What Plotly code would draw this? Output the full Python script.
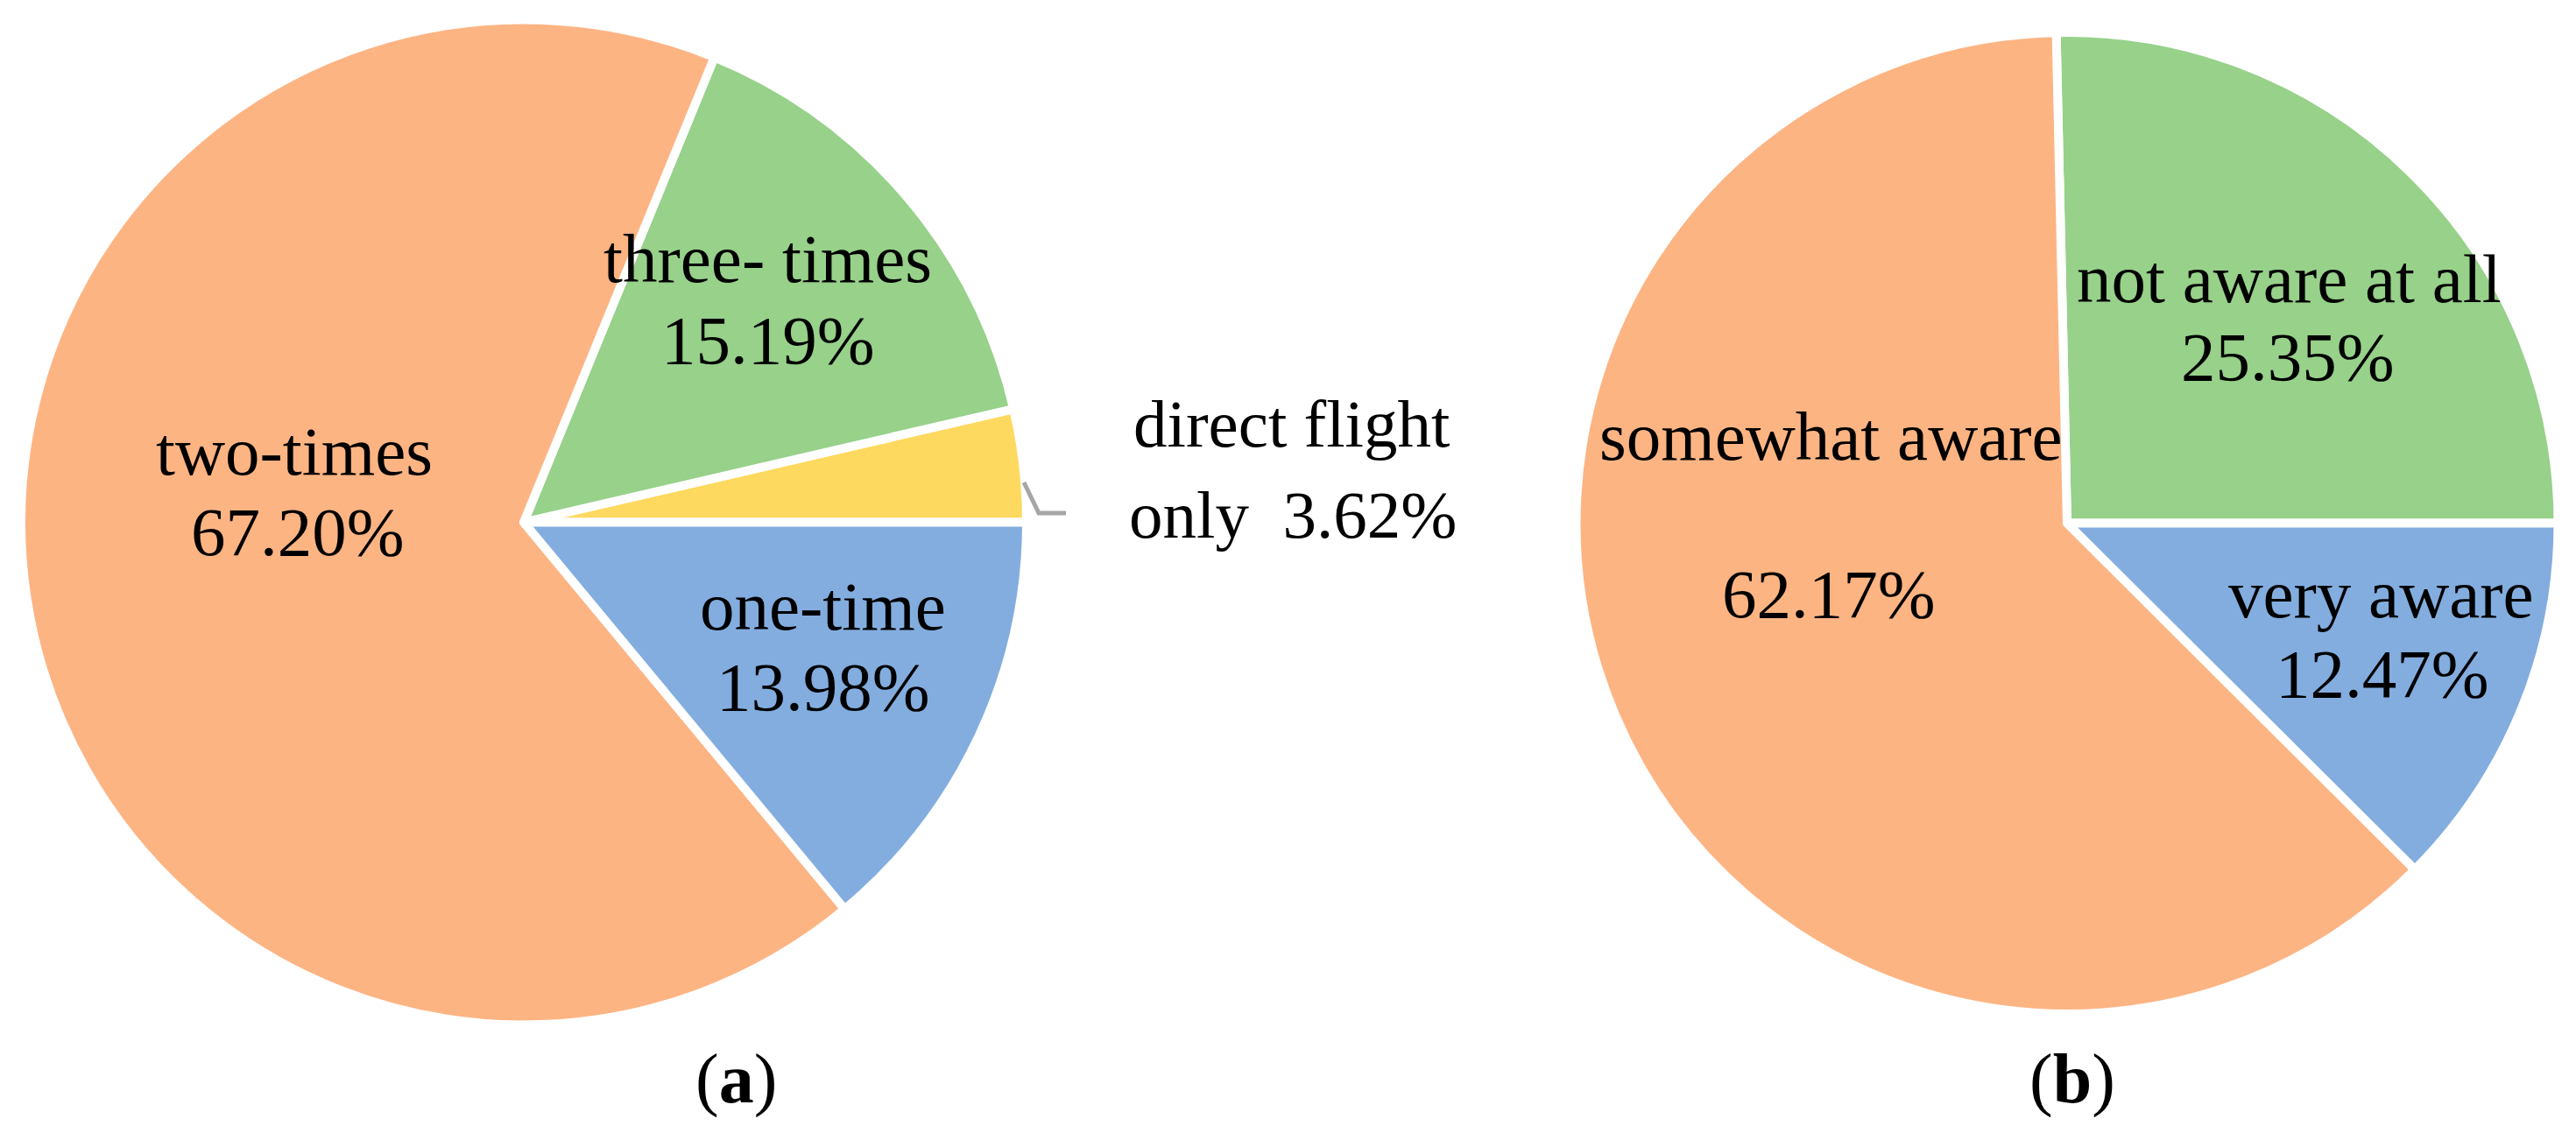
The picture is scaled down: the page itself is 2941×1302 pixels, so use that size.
import plotly.graph_objects as go

# ---------------- data ----------------
categories_a = ["direct flight only", "three- times", "two-times", "one-time"]
values_a = [3.62, 15.19, 67.20, 13.98]

categories_b = ["not aware at all", "somewhat aware", "very aware"]
values_b = [25.35, 62.17, 12.47]

panel_titles = ["(<b>a</b>)", "(<b>b</b>)"]

# ---------------- style ----------------
W, H = 2941, 1302
FONT = "Liberation Serif, Times New Roman, serif"
colors_a = ["#FED95F", "#97D18A", "#FDB483", "#83ADDF"]
colors_b = ["#97D18A", "#FDB483", "#83ADDF"]
BORDER = 10

# pie geometry (pixels): center x, center y (from top), radius
geom_a = (590, 588.5, 574)
geom_b = (2352, 589.5, 560.5)

# label layout (pixels): (x center, baseline line1, x center line2, baseline line2)
pos_a = [(1466, 508, 1468, 612), (869, 320, 869, 413), (328, 539.5, 332, 632), (931, 717, 932, 809)]
pos_b = [(2605, 343, 2604, 432), (2082, 523, 2080, 702.5), (2710, 702.5, 2712, 793.6)]
title_pos = [(832, 1257), (2358, 1257)]

LABEL_SIZE = 79
DF_SIZE = 77
TITLE_SIZE = 80


def px(x):
    return x / W


def py(y):
    return 1 - y / H


def domain(g):
    cx, cy, r = g
    return dict(x=[px(cx - r), px(cx + r)], y=[py(cy + r), py(cy - r)])


def start_rotation(values):
    # plotly (counterclockwise) places the first slice just clockwise of `rotation`;
    # shift so the first slice starts at 3 o'clock and runs counterclockwise
    return 90 - 360 * values[0] / sum(values)


fig = go.Figure()
fig.add_trace(go.Pie(labels=categories_a, values=values_a, sort=False,
                     direction="counterclockwise", rotation=start_rotation(values_a),
                     marker=dict(colors=colors_a, line=dict(color="white", width=BORDER)),
                     textinfo="none", domain=domain(geom_a), showlegend=False))
fig.add_trace(go.Pie(labels=categories_b, values=values_b, sort=False,
                     direction="counterclockwise", rotation=start_rotation(values_b),
                     marker=dict(colors=colors_b, line=dict(color="white", width=BORDER)),
                     textinfo="none", domain=domain(geom_b), showlegend=False))

annotations = []


def add_line(text, xc, baseline, size):
    # approximate: center of text box sits ~0.41em above the baseline
    annotations.append(dict(text=text, x=px(xc), y=py(baseline - 0.41 * size),
                            xref="paper", yref="paper", xanchor="center", yanchor="middle",
                            showarrow=False, font=dict(family=FONT, size=size, color="black")))


for i, (cat, v) in enumerate(zip(categories_a, values_a)):
    x1, b1, x2, b2 = pos_a[i]
    if cat == "direct flight only":
        add_line("direct flight", x1, b1, DF_SIZE)
        add_line(f"only  {v:.2f}%", x2, b2, DF_SIZE)
    else:
        add_line(cat, x1, b1, LABEL_SIZE)
        add_line(f"{v:.2f}%", x2, b2, LABEL_SIZE)

for i, (cat, v) in enumerate(zip(categories_b, values_b)):
    x1, b1, x2, b2 = pos_b[i]
    add_line(cat, x1, b1, LABEL_SIZE)
    add_line(f"{v:.2f}%", x2, b2, LABEL_SIZE)

for t, (xc, b) in zip(panel_titles, title_pos):
    add_line(t, xc, b, TITLE_SIZE)

# leader line for the small slice
leader = [(1161, 543), (1178, 578), (1209, 578)]
path = "M " + " L ".join(f"{px(x)},{py(y)}" for x, y in leader)
shapes = [dict(type="path", path=path, xref="paper", yref="paper",
               line=dict(color="#A6A6A6", width=5))]

fig.update_layout(width=W, height=H, margin=dict(l=0, r=0, t=0, b=0),
                  paper_bgcolor="white", plot_bgcolor="white",
                  annotations=annotations, shapes=shapes)

fig.write_html("out.html")
